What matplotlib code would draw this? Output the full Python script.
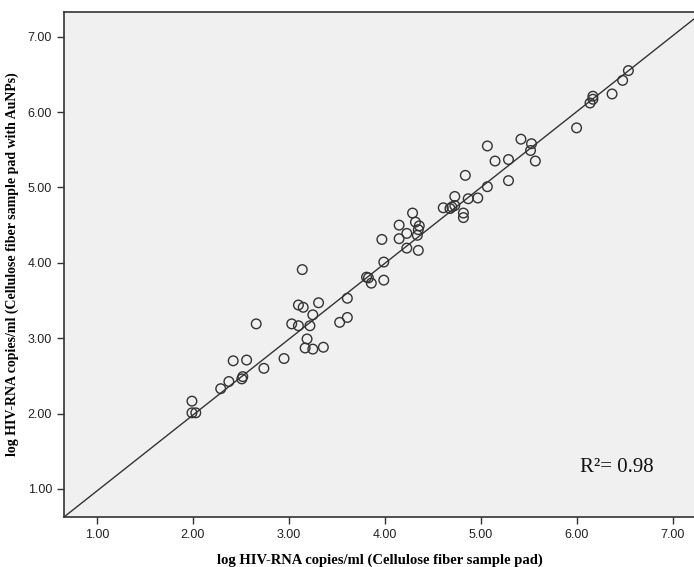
import numpy as np
import matplotlib
matplotlib.use("Agg")
import matplotlib.pyplot as plt

# data
pad = [1.99, 1.99, 2.03, 2.29, 2.375, 2.42, 2.51, 2.52, 2.56, 2.66, 2.74, 2.95,
       3.03, 3.10, 3.15, 3.10, 3.22, 3.25, 3.31, 3.19, 3.17, 3.25, 3.36, 3.53,
       3.61, 3.61, 3.14, 3.81, 3.83, 3.86,
       3.97, 3.99, 3.99, 4.15, 4.15, 4.23, 4.23, 4.29, 4.32, 4.36, 4.35, 4.34,
       4.35, 4.61, 4.68, 4.70, 4.73, 4.73, 4.82, 4.82, 4.84, 4.87, 4.97, 5.07,
       5.07, 5.15, 5.29, 5.29, 5.42, 5.53, 5.52, 5.57, 6.00,
       6.14, 6.17, 6.17, 6.37, 6.48, 6.54]
aunp = [2.165, 2.01, 2.01, 2.33, 2.425, 2.70, 2.46, 2.49, 2.71, 3.19, 2.60, 2.73,
        3.19, 3.44, 3.41, 3.165, 3.165, 3.31, 3.47, 2.99, 2.87, 2.855, 2.88, 3.21,
        3.275, 3.53, 3.91, 3.81, 3.80, 3.73,
        4.31, 4.01, 3.77, 4.50, 4.32, 4.39, 4.195, 4.66, 4.54, 4.49, 4.44, 4.365,
        4.165, 4.73, 4.72, 4.74, 4.88, 4.76, 4.66, 4.60, 5.16, 4.85, 4.86, 5.01,
        5.55, 5.35, 5.37, 5.09, 5.64, 5.58, 5.49, 5.35, 5.79,
        6.12, 6.17, 6.21, 6.24, 6.42, 6.55]

# fit line
intercept = -0.032
slope = 1.006

fig = plt.figure(figsize=(6.94, 5.67), dpi=100)
ax = fig.add_axes([0.0922, 0.0882, 0.91, 0.891])
ax.set_facecolor('#f0f0f0')

xmin, xmax = 0.656, 7.24
ax.set_xlim(xmin, xmax)
ax.set_ylim(0.628, 7.33)

xs = np.array([xmin, xmax])
ax.plot(xs, intercept + slope * xs, color='#333333', lw=1.0, zorder=2)

ax.scatter(pad, aunp, s=48, facecolors='none', edgecolors='#333333',
           linewidths=1.0, zorder=3)

ticks = [1, 2, 3, 4, 5, 6, 7]
ax.set_xticks(ticks)
ax.set_yticks(ticks)
ax.set_xticklabels(['%.2f' % t for t in ticks])
ax.set_yticklabels(['%.2f' % t for t in ticks])
ax.tick_params(direction='out', length=5, width=1, color='#333333',
               labelsize=9, labelcolor='#222222')
for lab in ax.get_xticklabels() + ax.get_yticklabels():
    lab.set_family('Liberation Sans')

ax.spines['right'].set_visible(False)
for s in ax.spines.values():
    s.set_color('#333333')
    s.set_linewidth(1.2)

ax.set_xlabel('log HIV-RNA copies/ml (Cellulose fiber sample pad)',
              family='Liberation Serif', fontweight='bold', fontsize=10.5,
              labelpad=9)
ax.set_ylabel('log HIV-RNA copies/ml (Cellulose fiber sample pad with AuNPs)',
              family='Liberation Serif', fontweight='bold', fontsize=10,
              labelpad=6)

ax.text(6.42, 1.28, 'R\u00b2= 0.98', family='Liberation Serif', fontsize=15,
        ha='center', va='center', color='#111111')

fig.savefig('out.png', dpi=100)
